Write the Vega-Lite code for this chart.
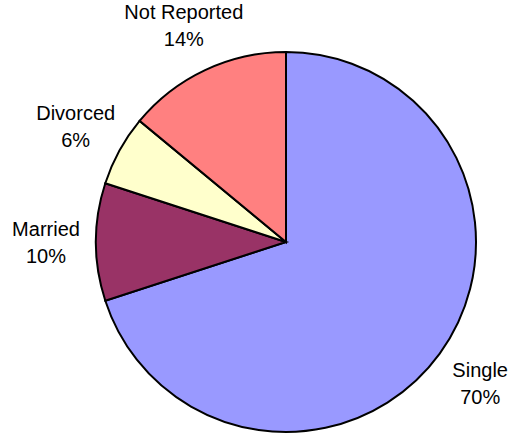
{
  "$schema": "https://vega.github.io/schema/vega-lite/v6.json",
  "width": 446,
  "height": 384,
  "autosize": "none",
  "padding": {"left": 63, "right": 0, "top": 50, "bottom": 0},
  "background": "white",
  "view": {"stroke": null},
  "data": {
    "values": [
      {"idx": 1, "status": "Single", "pct": 70, "label": "Single\n70%"},
      {"idx": 2, "status": "Married", "pct": 10, "label": "Married\n10%"},
      {"idx": 3, "status": "Divorced", "pct": 6, "label": "Divorced\n6%"},
      {"idx": 4, "status": "Not Reported", "pct": 14, "label": "Not Reported\n14%"}
    ]
  },
  "encoding": {
    "theta": {"field": "pct", "type": "quantitative", "stack": true},
    "order": {"field": "idx", "type": "quantitative"}
  },
  "layer": [
    {
      "mark": {"type": "arc", "outerRadius": 190, "stroke": "black", "strokeWidth": 2},
      "encoding": {
        "color": {
          "field": "status",
          "type": "nominal",
          "scale": {
            "domain": ["Single", "Married", "Divorced", "Not Reported"],
            "range": ["#9999FF", "#993366", "#FFFFCC", "#FF8080"]
          },
          "legend": null
        }
      }
    },
    {
      "mark": {
        "type": "text",
        "radius": 240,
        "dy": -12,
        "font": "Liberation Sans",
        "fontSize": 20,
        "lineHeight": 27,
        "lineBreak": "\n",
        "align": "center",
        "baseline": "middle",
        "color": "black"
      },
      "encoding": {
        "text": {"field": "label", "type": "nominal"}
      }
    }
  ]
}
